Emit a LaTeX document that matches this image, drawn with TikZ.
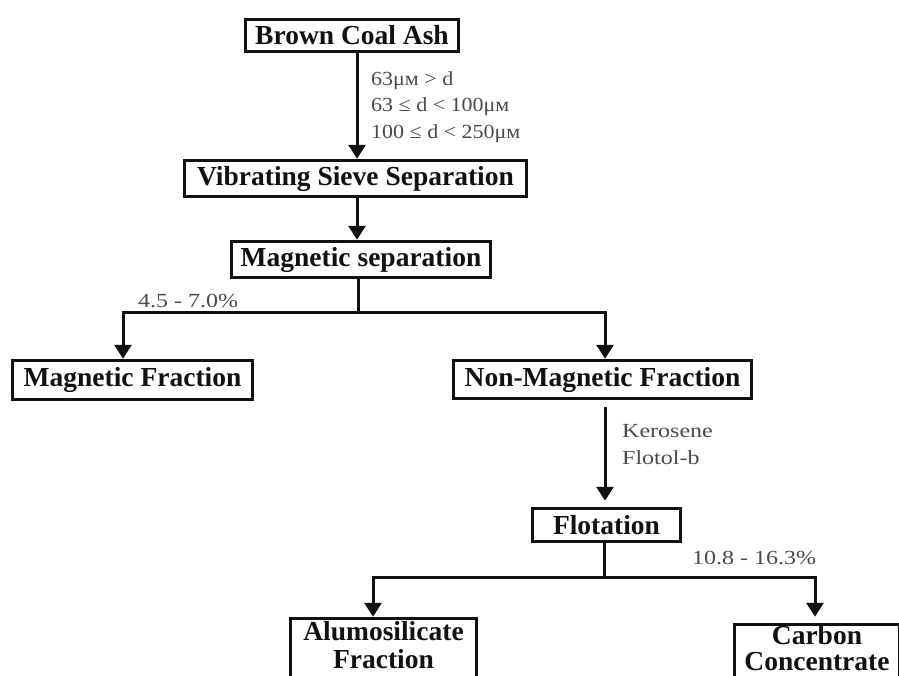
\documentclass[tikz,border=0pt]{standalone}
\usepackage{fontspec}
\setmainfont{Liberation Serif}
\newfontfamily\labfont[FakeStretch=1.2]{Liberation Serif}
\newfontfamily\sizefont[FakeStretch=1.1]{Liberation Serif}
\usepackage{tikz}
\usetikzlibrary{arrows.meta}
\definecolor{ink}{HTML}{111111}
\definecolor{note}{HTML}{4A4A4A}
\tikzset{
  stage/.style={draw=ink, line width=3.5pt, inner sep=0pt, align=center,
    text=ink, font=\fontsize{27.5}{30}\selectfont\bfseries},
  wire/.style={draw=ink, line width=3pt},
  flow/.style={wire, -{Triangle[width=17pt,length=14pt]}},
  flows/.style={wire, {Triangle[width=17pt,length=14pt]}-{Triangle[width=17pt,length=14pt]}},
  lab/.style={text=note, inner sep=0pt, align=left,
    font=\labfont\fontsize{20}{26.5}\selectfont},
}
\begin{document}
\begin{tikzpicture}[x=1pt,y=-1pt]
  \useasboundingbox (0,0) rectangle (899,675);
  % boxes
  \node[stage,minimum width=213pt,minimum height=32pt] (coal) at (352,35.5) {Brown Coal Ash};
  \node[stage,minimum width=342pt,minimum height=36pt] (sieve) at (355.5,178.5) {Vibrating Sieve Separation};
  \node[stage,minimum width=259pt,minimum height=36pt] (magsep) at (361,259.5) {Magnetic separation};
  \node[stage,minimum width=240pt,minimum height=39pt] (magfr) at (132.5,380) {Magnetic Fraction};
  \node[stage,minimum width=298pt,minimum height=38pt] (nonmag) at (602.5,379.5) {Non-Magnetic Fraction};
  \node[stage,minimum width=148pt,minimum height=33pt] (flot) at (606.5,525) {Flotation};
  \node[stage,minimum width=186pt,minimum height=62pt,text depth=10pt,
    font=\fontsize{27.5}{28}\selectfont\bfseries] (alumo) at (383.5,649.5) {Alumosilicate\\Fraction};
  \node[stage,minimum width=165pt,minimum height=62pt,text depth=15pt,
    font=\fontsize{27.5}{26.5}\selectfont\bfseries] (carbon) at (817,655.5) {Carbon\\Concentrate};
  % branch points
  \coordinate (axis) at (357,0);
  \coordinate (splitA) at (358,312);
  \coordinate (tapL) at (123,312);
  \coordinate (tapR) at (605,312);
  \coordinate (splitB) at (604,577);
  \coordinate (tapAl) at (373,577);
  \coordinate (tapCa) at (815,577);
  % connectors
  \draw[flow] (coal.south -| axis) -- (sieve.north -| axis);
  \draw[flow] (sieve.south -| axis) -- (magsep.north -| axis);
  \draw[wire] (magsep.south -| splitA) -- (splitA);
  \draw[flows] (tapL |- magfr.north) -- (tapL) -- (tapR) -- (tapR |- nonmag.north);
  \draw[flow, shorten <=7pt, shorten >=6pt] (nonmag.south -| tapR) -- (flot.north -| tapR);
  \draw[wire] (flot.south -| splitB) -- (splitB);
  \draw[flows, shorten >=6pt] (tapAl |- alumo.north) -- (tapAl) -- (tapCa) -- (tapCa |- carbon.north);
  % labels
  \node[lab, anchor=west, font=\sizefont\fontsize{20}{26.5}\selectfont] (sizes) at (371,107)
    {63μм > d\\63 ≤ d < 100μм\\100 ≤ d < 250μм};
  \node[lab] (magpct) at (188,301) {4.5 - 7.0\%};
  \node[lab, anchor=west] (reag) at (622,444.5) {Kerosene\\Flotol-b};
  \node[lab] (carbpct) at (754,558) {10.8 - 16.3\%};
\end{tikzpicture}
\end{document}
